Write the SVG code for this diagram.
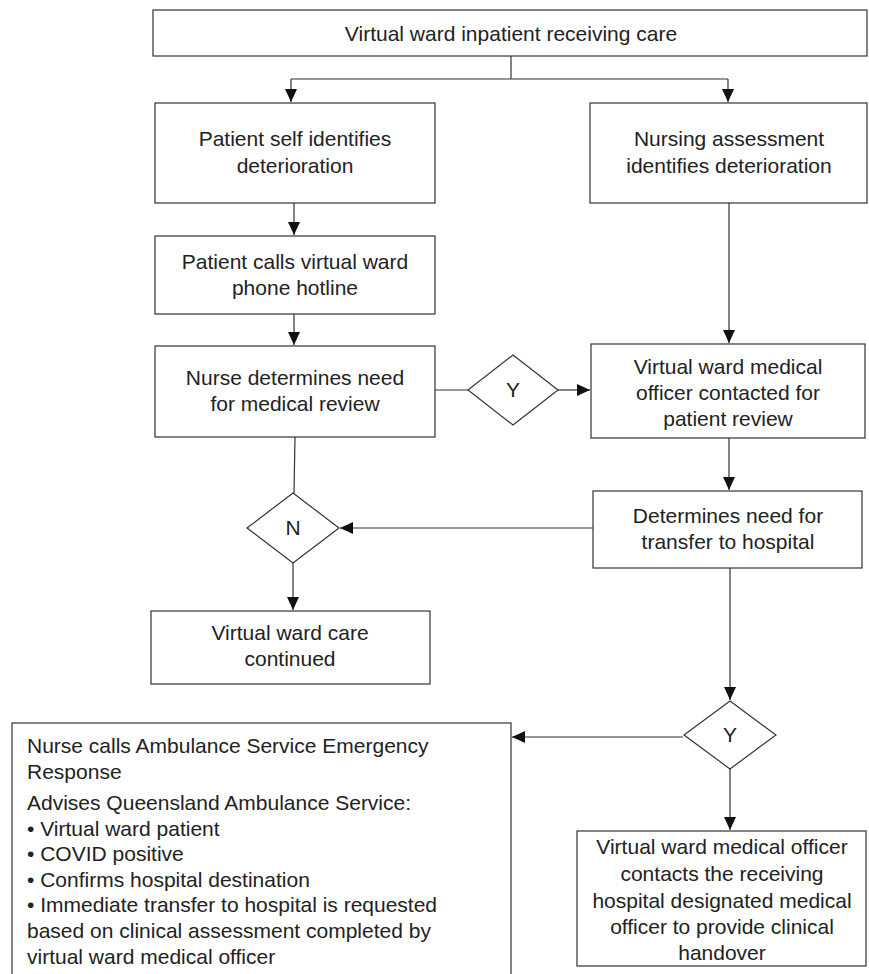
<svg xmlns="http://www.w3.org/2000/svg" width="869" height="974" viewBox="0 0 869 974">
<style>
.box{fill:#fff;stroke:#333;stroke-width:1.2}
.t{font-family:"Liberation Sans",Arial,sans-serif;font-size:21px;fill:#222;text-anchor:middle}
.tl{font-family:"Liberation Sans",Arial,sans-serif;font-size:21px;fill:#222}
.c{fill:none;stroke:#333;stroke-width:1.2}
</style>
<defs>
<marker id="ah" markerWidth="14" markerHeight="12" refX="13" refY="6" orient="auto" markerUnits="userSpaceOnUse">
<path d="M0,0 L13,6 L0,12 Z" fill="#111"/>
</marker>
</defs>
<rect width="869" height="974" fill="#fff"/>
<g id="connectors">
<path class="c" d="M511,56 V79 M291,79 H728"/>
<path class="c" d="M291,79 V102" marker-end="url(#ah)"/>
<path class="c" d="M728,79 V102" marker-end="url(#ah)"/>
<path class="c" d="M294,203 V235" marker-end="url(#ah)"/>
<path class="c" d="M294,314 V345" marker-end="url(#ah)"/>
<path class="c" d="M729,203 V343" marker-end="url(#ah)"/>
<path class="c" d="M435,390 H468"/>
<path class="c" d="M558,390 H590" marker-end="url(#ah)"/>
<path class="c" d="M729,438 V490" marker-end="url(#ah)"/>
<path class="c" d="M295,437 L294,493"/>
<path class="c" d="M593,528 H340" marker-end="url(#ah)"/>
<path class="c" d="M293,563 V610" marker-end="url(#ah)"/>
<path class="c" d="M730,568 V700" marker-end="url(#ah)"/>
<path class="c" d="M683,737 H512" marker-end="url(#ah)"/>
<path class="c" d="M730,769 V830" marker-end="url(#ah)"/>
</g>
<g id="n-top">
<rect class="box" x="153" y="10" width="714" height="46"/>
<text class="t" x="511" y="41">Virtual ward inpatient receiving care</text>
</g>
<g id="n-self">
<rect class="box" x="155" y="103" width="280" height="100"/>
<text class="t" x="295" y="146">Patient self identifies</text>
<text class="t" x="295" y="173">deterioration</text>
</g>
<g id="n-nursing">
<rect class="box" x="590" y="103" width="277" height="100"/>
<text class="t" x="729" y="146">Nursing assessment</text>
<text class="t" x="729" y="173">identifies deterioration</text>
</g>
<g id="n-calls">
<rect class="box" x="155" y="236" width="280" height="78"/>
<text class="t" x="295" y="269">Patient calls virtual ward</text>
<text class="t" x="295" y="295">phone hotline</text>
</g>
<g id="n-nurse">
<rect class="box" x="155" y="346" width="280" height="91"/>
<text class="t" x="295" y="385">Nurse determines need</text>
<text class="t" x="295" y="411">for medical review</text>
</g>
<g id="d-y1">
<polygon class="box" points="513,355 558,390 513,425 468,390"/>
<text class="t" x="513" y="397">Y</text>
</g>
<g id="n-officer">
<rect class="box" x="591" y="344" width="274" height="94"/>
<text class="t" x="728" y="374">Virtual ward medical</text>
<text class="t" x="728" y="400">officer contacted for</text>
<text class="t" x="728" y="426">patient review</text>
</g>
<g id="n-determines">
<rect class="box" x="593" y="491" width="269" height="77"/>
<text class="t" x="728" y="523">Determines need for</text>
<text class="t" x="728" y="549">transfer to hospital</text>
</g>
<g id="d-n">
<polygon class="box" points="293,493 339,528 293,563 247,528"/>
<text class="t" x="293" y="535">N</text>
</g>
<g id="n-continued">
<rect class="box" x="151" y="611" width="279" height="73"/>
<text class="t" x="290" y="640">Virtual ward care</text>
<text class="t" x="290" y="666">continued</text>
</g>
<g id="d-y2">
<polygon class="box" points="730,701 776,735 730,769 684,735"/>
<text class="t" x="730" y="742">Y</text>
</g>
<g id="n-ambulance">
<rect class="box" x="12" y="723" width="499" height="270"/>
<text class="tl" x="27" y="753">Nurse calls Ambulance Service Emergency</text>
<text class="tl" x="27" y="779">Response</text>
<text class="tl" x="27" y="810">Advises Queensland Ambulance Service:</text>
<text class="tl" x="27" y="836">• Virtual ward patient</text>
<text class="tl" x="27" y="861">• COVID positive</text>
<text class="tl" x="27" y="887">• Confirms hospital destination</text>
<text class="tl" x="27" y="912">• Immediate transfer to hospital is requested</text>
<text class="tl" x="27" y="938">based on clinical assessment completed by</text>
<text class="tl" x="27" y="964">virtual ward medical officer</text>
</g>
<g id="n-handover">
<rect class="box" x="577" y="831" width="289" height="135"/>
<text class="t" x="722" y="854">Virtual ward medical officer</text>
<text class="t" x="722" y="881">contacts the receiving</text>
<text class="t" x="722" y="908">hospital designated medical</text>
<text class="t" x="722" y="934">officer to provide clinical</text>
<text class="t" x="722" y="960">handover</text>
</g>
</svg>
